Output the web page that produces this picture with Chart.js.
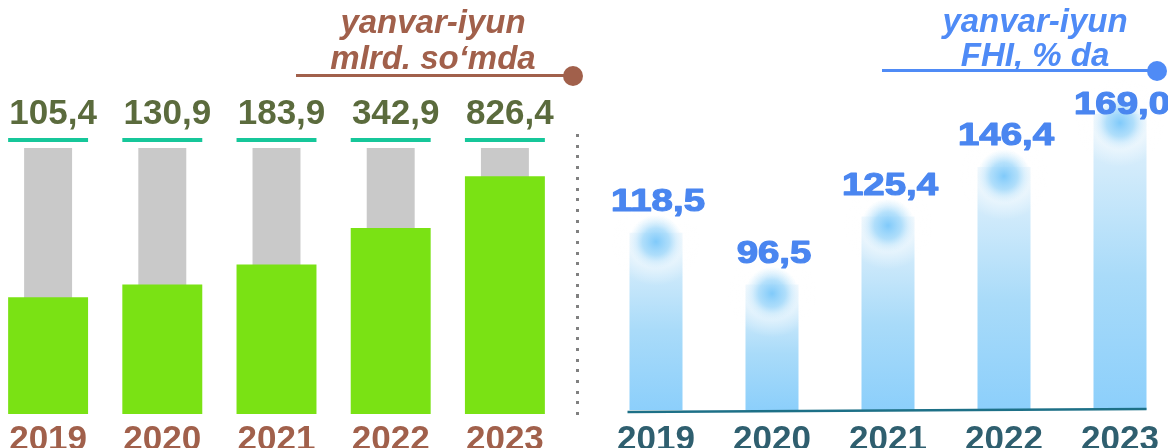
<!DOCTYPE html>
<html>
<head>
<meta charset="utf-8">
<script src="https://cdn.jsdelivr.net/npm/chart.js@4.4.0/dist/chart.umd.min.js"></script>
<style>
  html, body { margin: 0; padding: 0; background: #fff; }
  #wrap { position: relative; width: 1168px; height: 448px; overflow: hidden; background: #fff; }
  canvas { position: absolute; top: 0; }
  .title {
    position: absolute; width: 320px; text-align: center;
    font: italic bold 33px "Liberation Sans", Arial, sans-serif;
  }
  .rule { position: absolute; height: 3px; }
  .dot { position: absolute; width: 20px; height: 20px; border-radius: 50%; }
  #sep {
    position: absolute; left: 576px; top: 134px; width: 3px; height: 282px;
    background: repeating-linear-gradient(to bottom, #808080 0 3px, transparent 3px 10.7px);
  }
</style>
</head>
<body>
<div id="wrap">
  <canvas id="left" width="571" height="466" style="left:-9px"></canvas>
  <canvas id="right" width="580" height="470" style="left:598px"></canvas>

  <div class="title" style="left:273px; top:4px; line-height:36px; color:#a1604b">yanvar-iyun<br>mlrd. so‘mda</div>
  <div class="rule" style="left:296px; top:74px; width:275px; background:#a1604b"></div>
  <div class="dot" style="left:563px; top:66px; background:#a1604b"></div>

  <div class="title" style="left:875px; top:4px; line-height:34px; color:#4f8bf6">yanvar-iyun<br>FHI, % da</div>
  <div class="rule" style="left:882px; top:69px; width:275px; background:#4f8bf6"></div>
  <div class="dot" style="left:1147px; top:61px; background:#4f8bf6"></div>

  <div id="sep"></div>
</div>

<script>
const years = ['2019', '2020', '2021', '2022', '2023'];
const amountMlrd = [105.4, 130.9, 183.9, 342.9, 826.4];   // yanvar-iyun, mlrd. so'm
const fhiPercent = [118.5, 96.5, 125.4, 146.4, 169.0];    // yanvar-iyun, FHI % da

const fmt = v => v.toFixed(1).replace('.', ',');
const family = '"Liberation Sans", Arial, sans-serif';
const yearFont = { family: family, size: 35, weight: 'bold' };

// left: log scale, grey track fills to the top of the axis
const leftMin = 14.4, leftMax = 1340;

const leftLabels = {
  id: 'leftLabels',
  afterDatasetsDraw(chart) {
    const ctx = chart.ctx;
    const top = chart.chartArea.top;
    const bars = chart.getDatasetMeta(0).data;
    ctx.save();
    bars.forEach((bar, i) => {
      ctx.fillStyle = '#16c79a';
      ctx.fillRect(bar.x - bar.width / 2, top - 10, bar.width, 4);
      ctx.fillStyle = '#5b6b3d';
      ctx.font = 'bold 35px ' + family;
      ctx.textAlign = 'center';
      ctx.textBaseline = 'alphabetic';
      ctx.fillText(fmt(amountMlrd[i]), bar.x + 5, top - 24);
    });
    ctx.restore();
  }
};

new Chart(document.getElementById('left'), {
  type: 'bar',
  data: {
    labels: years,
    datasets: [
      {
        data: amountMlrd,
        backgroundColor: '#7ae214',
        grouped: false,
        barPercentage: 0.70,
        categoryPercentage: 1,
        order: 0
      },
      {
        data: years.map(() => leftMax),
        backgroundColor: '#c9c9c9',
        grouped: false,
        barPercentage: 0.42,
        categoryPercentage: 1,
        order: 1
      }
    ]
  },
  options: {
    responsive: false,
    animation: false,
    layout: { padding: { top: 148, left: 0, right: 0, bottom: 0 } },
    plugins: { legend: { display: false }, tooltip: { enabled: false } },
    scales: {
      x: {
        grid: { display: false, drawTicks: false },
        border: { display: false },
        ticks: { color: '#a1604b', padding: 5, font: yearFont }
      },
      y: {
        type: 'logarithmic',
        display: false,
        bounds: 'data',
        min: leftMin,
        max: leftMax
      }
    }
  },
  plugins: [leftLabels]
});

// right: linear scale with a raised floor
const rightMin = 43.2, rightMax = 174.9;

const rightDecor = {
  id: 'rightDecor',
  afterDatasetsDraw(chart) {
    const ctx = chart.ctx;
    const bars = chart.getDatasetMeta(0).data;
    const area = chart.chartArea;
    ctx.save();
    bars.forEach(bar => {
      const cy = bar.y + 9;
      let g = ctx.createRadialGradient(bar.x, cy, 0, bar.x, cy, 44);
      g.addColorStop(0, 'rgba(255,255,255,0.0)');
      g.addColorStop(0.45, 'rgba(255,255,255,0.6)');
      g.addColorStop(1, 'rgba(255,255,255,0)');
      ctx.fillStyle = g;
      ctx.fillRect(bar.x - 46, cy - 46, 92, 92);
      g = ctx.createRadialGradient(bar.x, cy, 0, bar.x, cy, 27);
      g.addColorStop(0, 'rgba(128,202,250,1)');
      g.addColorStop(0.5, 'rgba(150,212,250,0.7)');
      g.addColorStop(1, 'rgba(190,228,250,0)');
      ctx.fillStyle = g;
      ctx.fillRect(bar.x - 30, cy - 30, 60, 60);
    });
    // base line
    const first = bars[0], last = bars[bars.length - 1];
    ctx.strokeStyle = '#1d7087';
    ctx.lineWidth = 2.5;
    ctx.beginPath();
    ctx.moveTo(first.x - first.width / 2 - 2, area.bottom + 2);
    ctx.lineTo(last.x + last.width / 2, area.bottom - 1);
    ctx.stroke();
    // values, drawn a little wide and heavy like the original
    ctx.fillStyle = '#4a86f0';
    ctx.strokeStyle = '#4a86f0';
    ctx.lineWidth = 1.2;
    ctx.lineJoin = 'round';
    ctx.font = 'bold 32px ' + family;
    ctx.textAlign = 'center';
    ctx.textBaseline = 'alphabetic';
    bars.forEach((bar, i) => {
      const y = Math.max(bar.y - 22, 114);
      ctx.save();
      ctx.translate(bar.x + 2, y);
      ctx.scale(1.2, 1);
      ctx.fillText(fmt(fhiPercent[i]), 0, 0);
      ctx.strokeText(fmt(fhiPercent[i]), 0, 0);
      ctx.restore();
    });
    ctx.restore();
  }
};

new Chart(document.getElementById('right'), {
  type: 'bar',
  data: {
    labels: years,
    datasets: [{
      data: fhiPercent,
      base: rightMin,
      barPercentage: 0.457,
      categoryPercentage: 1,
      backgroundColor: c => {
        const chart = c.chart;
        if (!chart.chartArea) return '#8fd0fa';
        const y = chart.scales.y;
        const top = y.getPixelForValue(c.raw);
        const bottom = y.getPixelForValue(rightMin);
        const g = chart.ctx.createLinearGradient(0, top, 0, bottom);
        g.addColorStop(0, '#e6f3fc');
        g.addColorStop(0.55, '#a9dbf9');
        g.addColorStop(1, '#8ccffb');
        return g;
      }
    }]
  },
  options: {
    responsive: false,
    animation: false,
    layout: { padding: { top: 100, left: 0, right: 0, bottom: 0 } },
    plugins: { legend: { display: false }, tooltip: { enabled: false } },
    scales: {
      x: {
        grid: { display: false, drawTicks: false },
        border: { display: false },
        ticks: { color: '#2f5f6f', padding: 9, font: yearFont }
      },
      y: {
        type: 'linear',
        display: false,
        bounds: 'data',
        min: rightMin,
        max: rightMax
      }
    }
  },
  plugins: [rightDecor]
});
</script>
</body>
</html>
